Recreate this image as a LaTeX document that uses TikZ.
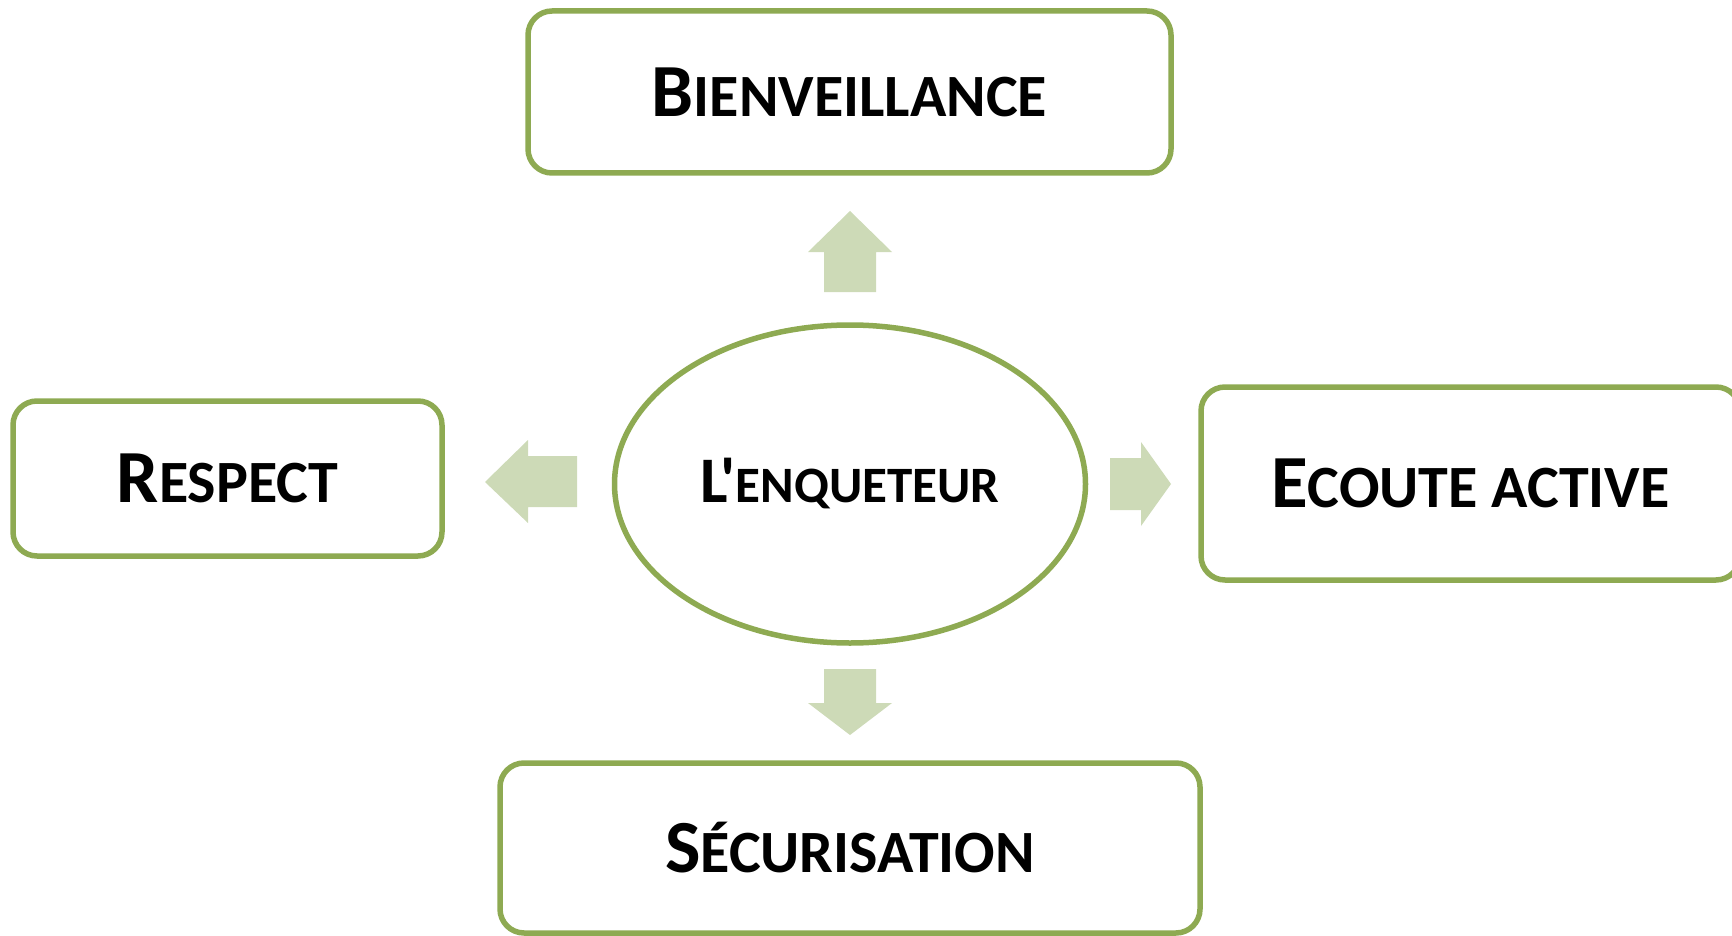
\documentclass[tikz,border=0pt]{standalone}
\usepackage{fontspec}
\newfontfamily\calfont{Carlito}
\usetikzlibrary{shapes.geometric}
\definecolor{lineg}{RGB}{142,170,82}
\definecolor{arrowg}{RGB}{205,218,183}
\newcommand\fsc[4]{{\fontsize{#1}{#1}\selectfont #3}{\fontsize{#2}{#2}\selectfont #4}}
\tikzset{
  box/.style={draw=lineg, line width=5.5pt, rounded corners=24pt, fill=white, inner sep=0pt, font=\calfont\bfseries},
  oval/.style={ellipse, draw=lineg, line width=5.5pt, fill=white, inner sep=0pt, font=\calfont\bfseries},
  blockarrow/.style={fill=arrowg, draw=none}
}
\begin{document}
\begin{tikzpicture}[x=1pt,y=-1pt]
\useasboundingbox (0,0) rectangle (1732,936);
\clip (0,0) rectangle (1732,936);
% central ellipse
\node[oval, minimum width=471pt, minimum height=318pt] (enq) at (850,484) {\fsc{65}{51}{L'}{ENQUETEUR}};
% boxes
\node[box, minimum width=643pt, minimum height=162pt] (bien) at (849.5,92) {\fsc{75}{60}{B}{IENVEILLANCE}};
\node[box, minimum width=429pt, minimum height=155pt] (resp) at (227.5,478.5) {\fsc{75}{60}{R}{ESPECT}};
\node[box, minimum width=539pt, minimum height=193pt] (ecou) at (1470.5,483.5) {\fsc{75}{60}{E}{COUTE ACTIVE}};
\node[box, minimum width=700pt, minimum height=170pt] (secu) at (850,848) {\fsc{75}{60}{S}{ÉCURISATION}};
% block arrows
\coordinate (up) at (850,211);
\fill[blockarrow] (up) -- ++(42,41) -- ++(-16,0) -- ++(0,40) -- ++(-52,0) -- ++(0,-40) -- ++(-16,0) -- cycle;
\coordinate (dn) at (850,735);
\fill[blockarrow] (dn) -- ++(42,-32) -- ++(-16,0) -- ++(0,-34) -- ++(-52,0) -- ++(0,34) -- ++(-16,0) -- cycle;
\coordinate (rt) at (1171,484);
\fill[blockarrow] (rt) -- ++(-30,42) -- ++(0,-16) -- ++(-31,0) -- ++(0,-52) -- ++(31,0) -- ++(0,-16) -- cycle;
\coordinate (lt) at (485,482);
\fill[blockarrow] (lt) -- ++(43,-42) -- ++(0,16) -- ++(49,0) -- ++(0,51) -- ++(-49,0) -- ++(0,16) -- cycle;
\end{tikzpicture}
\end{document}
